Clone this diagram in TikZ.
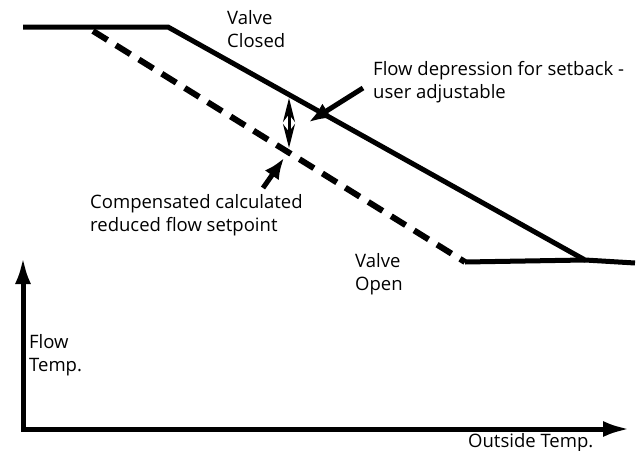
\documentclass[tikz,border=0pt]{standalone}
\usepackage{fontspec}
\setmainfont{Open Sans}
\usetikzlibrary{arrows.meta}

\begin{document}
\begin{tikzpicture}[x=1pt,y=-1pt,
  curve/.style={line width=5pt,line join=miter},
  reduced/.style={line width=6pt,dash pattern=on 17pt off 10pt},
  axis/.style={line width=5pt,line join=miter,{Latex[length=27pt,width=16pt]}-{Latex[length=27pt,width=16pt]}},
  pointer/.style={line width=5pt,-{Latex[length=21pt,width=17pt]}},
  span/.style={line width=3pt,{Stealth[length=24pt,width=12pt]}-{Stealth[length=24pt,width=12pt]}},
  lbl/.style={inner sep=0pt,anchor=base west,align=left,font=\fontsize{18.5}{23}\selectfont}]
\useasboundingbox (0,0) rectangle (640,450);

% axes
\coordinate (origin) at (23,429);
\coordinate (ytop) at (23,257);
\coordinate (xend) at (630,429);
\draw[axis] (ytop) -- (origin) -- (xend);

% flow curve
\coordinate (c1) at (23,27);
\coordinate (c2) at (168,27);
\coordinate (c3) at (585,260);
\coordinate (c4) at (635,263);
\draw[curve] (c1) -- (c2) -- (c3) -- (c4);

% reduced setpoint
\coordinate (r1) at (93,31);
\coordinate (r2) at (465,262);
\draw[reduced] (r1) -- (r2);
\draw[curve] (r2) -- (c3);

% depression
\coordinate (d1) at (289,98);
\coordinate (d2) at (289,148);
\draw[span] (d1) -- (d2);

% labels (anchored on the last line)
\node[lbl] (closed) at (227,47) {Valve\\Closed};
\node[lbl] (depr) at (373,98) {Flow depression for setback -\\user adjustable};
\node[lbl] (comp) at (90,231) {Compensated calculated\\reduced flow setpoint};
\node[lbl] (open) at (355,290) {Valve\\Open};
\node[lbl] (ylabel) at (29,371) {Flow\\Temp.};
\node[lbl] (xlabel) at (468,447) {Outside Temp.};

\coordinate (p1) at (363,88);
\coordinate (q1) at (309,122);
\draw[pointer] (p1) -- (q1);
\coordinate (p2) at (263,188);
\coordinate (q2) at (284,158);
\draw[pointer] (p2) -- (q2);
\end{tikzpicture}
\end{document}
